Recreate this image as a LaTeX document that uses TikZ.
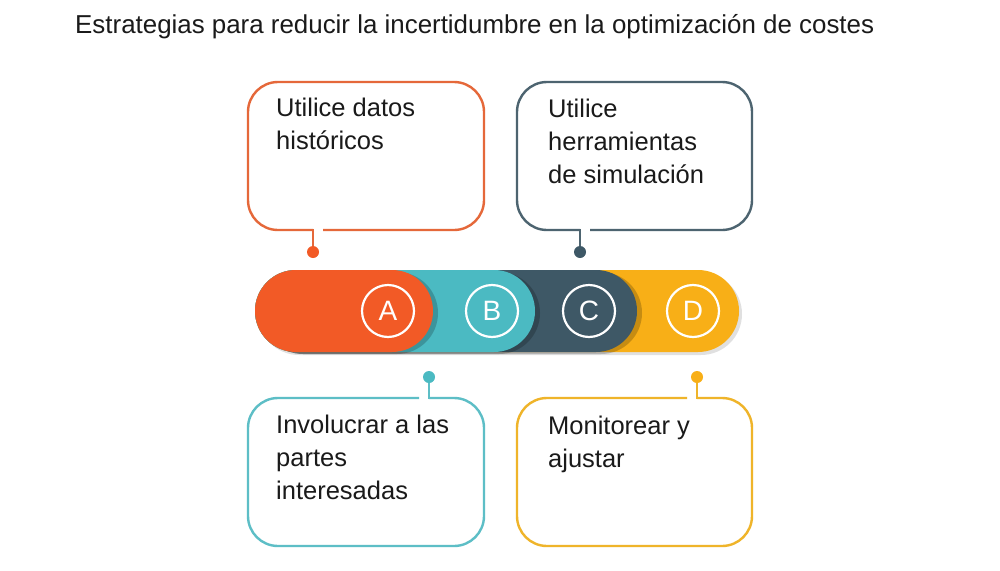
\documentclass[tikz,border=0pt]{standalone}
\usepackage{fontspec}
\setmainfont{Liberation Sans}
\definecolor{bOrange}{HTML}{F25A26}
\definecolor{bTeal}{HTML}{4BBAC2}
\definecolor{bSlate}{HTML}{3E5866}
\definecolor{bYellow}{HTML}{F8AF17}
\definecolor{lOrange}{HTML}{E5683A}
\definecolor{lTeal}{HTML}{5DBEC6}
\definecolor{lSlate}{HTML}{4D6470}
\definecolor{lYellow}{HTML}{EFB42A}
\definecolor{txt}{HTML}{1A1A1A}
\begin{document}
\begin{tikzpicture}[x=1pt,y=-1pt,
  bubble/.style={line width=2.4pt, rounded corners=30pt},
  stemline/.style={line width=2.4pt},
  dotnode/.style={circle, inner sep=0pt, minimum size=12pt},
  boxtext/.style={anchor=base west, align=left, inner sep=0pt, text=txt,
    font=\fontsize{25.5}{33}\selectfont},
  letter/.style={circle, draw=white, line width=2.2pt, minimum size=52pt, inner sep=0pt,
    text=white, font=\fontsize{28}{28}\selectfont},
  pillshadow/.style={fill=black, opacity=0.2, rounded corners=41pt},
  pill/.style={rounded corners=41pt}]
\useasboundingbox (0,0) rectangle (1000,570);
\fill[white] (0,0) rectangle (1000,570);

% title
\node[anchor=base west, inner sep=0pt, text=txt, font=\fontsize{25.9}{30}\selectfont] (title) at (75,33)
  {Estrategias para reducir la incertidumbre en la optimización de costes};

% band (drawn back to front)
\fill[pillshadow, opacity=0.12] (258,273) rectangle (742,355);
\fill[pill, bYellow] (255,270) rectangle (739,352);
\fill[pillshadow] (262,272) rectangle (642,354);
\fill[pill, bSlate] (255,270) rectangle (637,352);
\fill[pillshadow] (262,272) rectangle (540,354);
\fill[pill, bTeal] (255,270) rectangle (535,352);
\fill[pillshadow] (262,272) rectangle (438,354);
\fill[pill, bOrange] (255,270) rectangle (433,352);

\node[letter] (A) at (388,311) {A};
\node[letter] (B) at (492,311) {B};
\node[letter] (C) at (589,311) {C};
\node[letter] (D) at (693,311) {D};

% top-left bubble
\draw[bubble, lOrange] (323,230) -- (484,230) -- (484,82) -- (248,82) -- (248,230) -- (313,230);
\coordinate (sA) at (313,229);
\node[dotnode, fill=bOrange] (dA) at (313,252) {};
\draw[stemline, lOrange] (sA) -- (dA);
\node[boxtext] (tA) at (276,149) {Utilice datos\\históricos};

% top-right bubble
\draw[bubble, lSlate] (590,230) -- (752,230) -- (752,82) -- (517,82) -- (517,230) -- (580,230);
\coordinate (sC) at (580,229);
\node[dotnode, fill=bSlate] (dC) at (580,252) {};
\draw[stemline, lSlate] (sC) -- (dC);
\node[boxtext] (tC) at (548,183) {Utilice\\herramientas\\de simulación};

% bottom-left bubble
\draw[bubble, lTeal] (419,398) -- (248,398) -- (248,546) -- (484,546) -- (484,398) -- (429,398);
\coordinate (sB) at (429,399);
\node[dotnode, fill=bTeal] (dB) at (429,377) {};
\draw[stemline, lTeal] (sB) -- (dB);
\node[boxtext] (tB) at (276,499) {Involucrar a las\\partes\\interesadas};

% bottom-right bubble
\draw[bubble, lYellow] (687,398) -- (517,398) -- (517,546) -- (752,546) -- (752,398) -- (697,398);
\coordinate (sD) at (697,399);
\node[dotnode, fill=bYellow] (dD) at (697,377) {};
\draw[stemline, lYellow] (sD) -- (dD);
\node[boxtext] (tD) at (548,467) {Monitorear y\\ajustar};
\end{tikzpicture}
\end{document}
